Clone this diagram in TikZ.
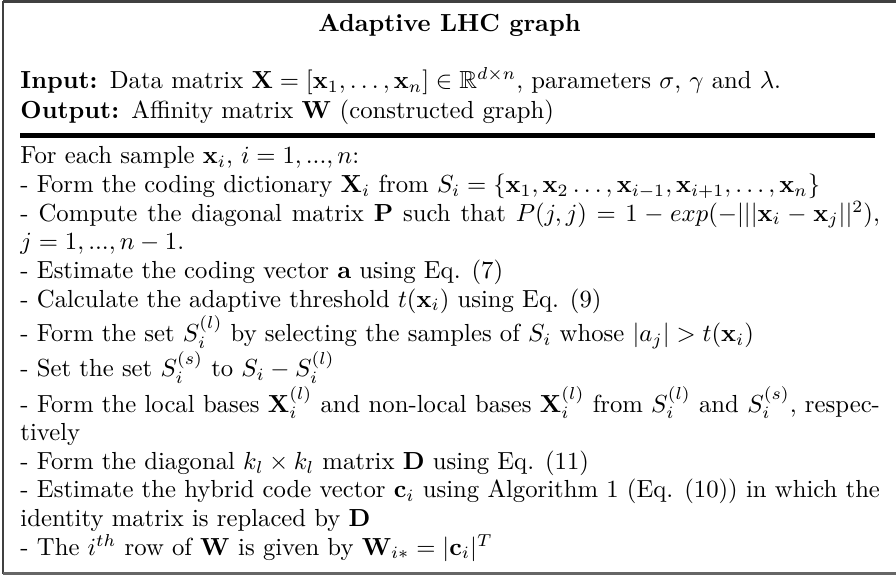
\documentclass[tikz,border=0pt]{standalone}
\usepackage{amssymb}
\usepackage{tikz}

\begin{document}
\begin{tikzpicture}[x=1pt,y=1pt,every node/.style={inner sep=0pt},
    metin/.style={anchor=north west, text width=348pt},
    kenar/.style={draw=black!75, line width=1pt}]
    % Sayfa sınırı
    \useasboundingbox (0,0) rectangle (362.8,-233.6);

    % Çerçevenin köşeleri (sağ kenar yok)
    \coordinate (tl) at (1.2,-0.6);
    \coordinate (tr) at (362.8,-0.6);
    \coordinate (bl) at (1.2,-232.4);
    \coordinate (br) at (362.8,-232.4);

    % Başlık ve giriş/çıkış
    \node (title) at (182,-10.2) {\textbf{Adaptive LHC graph}};
    \node[metin, align=left] (io) at (8.1,-27.1) {%
        \textbf{Input:} Data matrix $\mathbf{X} = [\mathbf{x}_1, \ldots, \mathbf{x}_n] \in \mathbb{R}^{d\times n}$, parameters $\sigma$, $\gamma$ and $\lambda$.\\
        \textbf{Output:} Affinity matrix $\mathbf{W}$ (constructed graph)};

    % Kalın ayırıcı çizgi
    \coordinate (rulel) at (8.1,-54.9);
    \coordinate (ruler) at (354.2,-54.9);

    % Algoritma adımları
    \node[metin, align=justify, font=\fontsize{10}{11.6}\selectfont] (steps) at (8.1,-59.2) {%
        For each sample $\mathbf{x}_i$, $i = 1,...,n$:\\
        - Form the coding dictionary $\mathbf{X}_i$ from $S_i = \{\mathbf{x}_1, \mathbf{x}_2 \ldots, \mathbf{x}_{i-1}, \mathbf{x}_{i+1}, \ldots, \mathbf{x}_n\}$\\
        - Compute the diagonal matrix $\mathbf{P}$ such that $P(j,j) = 1 - exp(-|||\mathbf{x}_i - \mathbf{x}_j||^2)$,\linebreak
        $j = 1,...,n-1$.\\
        - Estimate the coding vector $\mathbf{a}$ using Eq. (7)\\
        - Calculate the adaptive threshold $t(\mathbf{x}_i)$ using Eq. (9)\\
        - Form the set $S_i^{(l)}$ by selecting the samples of $S_i$ whose $|a_j| > t(\mathbf{x}_i)$\\
        - Set the set $S_i^{(s)}$ to $S_i - S_i^{(l)}$\\
        - Form the local bases $\mathbf{X}_i^{(l)}$ and non-local bases $\mathbf{X}_i^{(l)}$ from $S_i^{(l)}$ and $S_i^{(s)}$, respec-\linebreak
        tively\\
        - Form the diagonal $k_l \times k_l$ matrix $\mathbf{D}$ using Eq. (11)\\
        - Estimate the hybrid code vector $\mathbf{c}_i$ using Algorithm 1 (Eq. (10)) in which the\linebreak
        identity matrix is replaced by $\mathbf{D}$\\
        - The $i^{th}$ row of $\mathbf{W}$ is given by $\mathbf{W}_{i*} = |\mathbf{c}_i|^T$};

    % Çizgiler
    \draw[kenar] (tl) -- (tr);
    \draw[kenar] (tl) -- (bl);
    \draw[draw=black!60, line width=1.2pt] (bl) -- (br);
    \draw[line width=2pt] (rulel) -- (ruler);
\end{tikzpicture}
\end{document}
